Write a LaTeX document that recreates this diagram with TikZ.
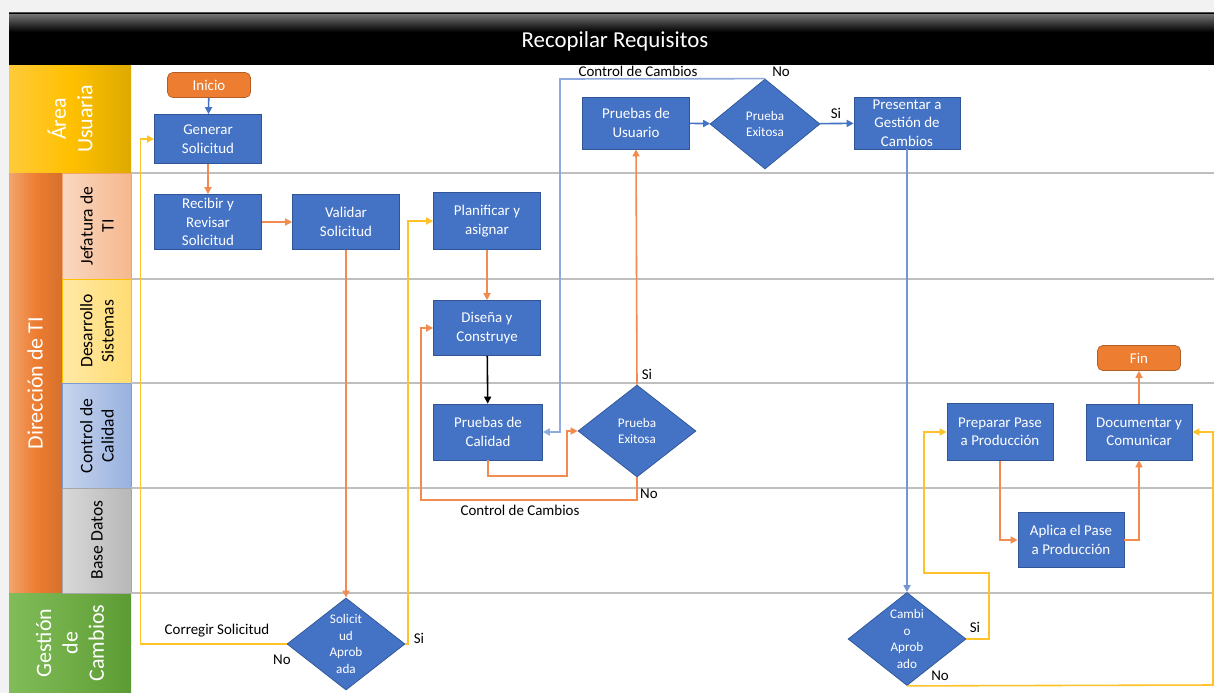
\documentclass[tikz,border=0pt]{standalone}
\usepackage{fontspec}
\setmainfont{Carlito}
\usetikzlibrary{shapes.geometric,arrows.meta}
\definecolor{boxblue}{HTML}{4472C4}
\definecolor{boxedge}{HTML}{2F5597}
\definecolor{startor}{HTML}{ED7D31}
\definecolor{flowor}{HTML}{F28C4E}
\definecolor{flowye}{HTML}{FFC22A}
\definecolor{flowbl}{HTML}{4472C4}
\definecolor{flowlb}{HTML}{8FAADC}
\definecolor{laneline}{HTML}{BFBFBF}
\definecolor{goldl}{HTML}{FFCA3A}
\definecolor{goldm}{HTML}{FFC000}
\definecolor{goldr}{HTML}{DDAA00}
\definecolor{greenl}{HTML}{80BD5A}
\definecolor{greenm}{HTML}{70AD47}
\definecolor{greenr}{HTML}{5C9B34}

\begin{document}
\begin{tikzpicture}[x=0.02cm,y=-0.02cm,
  >={Triangle[length=4pt,width=4pt]},
  proc/.style={rectangle,draw=boxedge,fill=boxblue,text=white,align=center,
    minimum width=2.14cm,minimum height=1.1cm,inner sep=1pt,
    font=\fontsize{8.5}{10.5}\selectfont},
  dec/.style={diamond,draw=boxedge,fill=boxblue,text=white,align=center,
    minimum width=2.36cm,minimum height=1.84cm,inner sep=0pt,
    font=\fontsize{7.5}{9.5}\selectfont},
  term/.style={rectangle,rounded corners=3pt,draw=startor!75!black,fill=startor,
    text=white,minimum width=1.66cm,minimum height=0.5cm,
    font=\fontsize{8.5}{10}\selectfont},
  lbl/.style={inner sep=0pt,font=\fontsize{8.5}{10}\selectfont},
  lanetxt/.style={rotate=90,align=center,text=white,font=\fontsize{12.5}{15}\selectfont},
  subtxt/.style={rotate=90,align=center,font=\fontsize{10}{12}\selectfont},
  orflow/.style={->,draw=flowor,line width=0.9pt},
  yeflow/.style={->,draw=flowye,line width=0.9pt},
  blflow/.style={->,draw=flowbl,line width=0.9pt}]

\useasboundingbox (0,0) rectangle (1214,693);
\fill[black!5] (0,0) rectangle (1214,693);
\fill[white] (9,65) rectangle (1214,693);

\fill[black] (9,12) rectangle (1214,65);
\shade[top color=black!55,bottom color=black] (9,14) rectangle (1214,32);
\draw[black!70,line width=0.6pt] (9,12.5) -- (1214,12.5);
\path (615,41) node[text=white,font=\fontsize{13}{15}\selectfont] (title) {Recopilar Requisitos};

\shade[left color=goldl,right color=goldr,middle color=goldm] (9,65) rectangle (131,173);
\path (70,119) node[lanetxt] (usu) {Área\\Usuaria};
\shade[left color=startor!70!white,right color=startor!90!black,middle color=startor] (9,173) rectangle (62,593);
\path (35,383) node[lanetxt] (dir) {Dirección de TI};
\shade[left color=greenl,right color=greenr,middle color=greenm] (9,593) rectangle (131,693);
\path (70,643) node[lanetxt] (gest) {Gestión\\de\\Cambios};

\shade[draw=startor!70,left color=startor!30,right color=startor!55] (62,173) rectangle (131,279);
\path (97,226) node[subtxt] (jef) {Jefatura de\\TI};
\shade[draw=goldm,left color=goldm!35,right color=goldm!55] (62,279) rectangle (131,383);
\path (97,331) node[subtxt] (des) {Desarrollo\\Sistemas};
\shade[draw=boxblue!70,left color=boxblue!30,right color=boxblue!55] (62,383) rectangle (131,488);
\path (97,436) node[subtxt] (cal) {Control de\\Calidad};
\shade[draw=black!35,left color=black!15,right color=black!28] (62,488) rectangle (131,593);
\path (97,540) node[subtxt] (bd) {Base Datos};

\foreach \ly in {173,279,383,488,593}
  \draw[laneline,line width=0.9pt] (131,\ly) -- (1214,\ly);

\path (209,85) node[term] (ini) {Inicio};
\path (208,139) node[proc,minimum height=0.98cm] (gen) {Generar\\Solicitud};
\draw[blflow] (ini) -- (gen);
\path (208,222) node[proc] (rec) {Recibir y\\Revisar\\Solicitud};
\draw[orflow] (gen) -- (rec);
\path (346,222) node[proc] (val) {Validar\\Solicitud};
\draw[orflow] (rec) -- (val);

\path (346,644) node[dec] (sol) {Solicit\\ud\\Aprob\\ada};
\draw[orflow] (val) -- (sol);
\path (487,221) node[proc,minimum height=1.14cm] (plan) {Planificar y\\asignar};
\draw[yeflow] (sol.west) -- ++(-146,0) |- (gen.west);
\path (217,631) node[lbl] (corr) {Corregir Solicitud};
\path (282,660) node[lbl] (solno) {No};
\draw[yeflow] (sol.east) -- ++(2.5,0) |- (plan.west);
\path (419,638) node[lbl] (solsi) {Si};

\path (487,328) node[proc] (dis) {Diseña y\\Construye};
\draw[orflow] (plan) -- (dis);
\path (488,432) node[proc,minimum width=2.18cm,minimum height=1.12cm] (pcal) {Pruebas de\\Calidad};
\draw[->,line width=0.9pt] (dis) -- (pcal);
\path (637,431) node[dec] (qa) {Prueba\\Exitosa};
\draw[orflow] (pcal.south) |- (567,476) |- (qa.west);
\path (636,123) node[proc,minimum height=1.04cm] (pusu) {Pruebas de\\Usuario};
\draw[orflow] (qa.north) -- (pusu.south);
\path (647,374) node[lbl] (qasi) {Si};
\draw[orflow] (qa.south) |- (421,500) |- (dis.west);
\path (649,494) node[lbl] (qano) {No};
\path (520,510) node[lbl] (cc1) {Control de Cambios};

\path (765,124) node[dec,minimum width=2.2cm,minimum height=1.8cm] (ua) {Prueba\\Exitosa};
\draw[blflow] (pusu) -- (ua);
\draw[->,draw=flowlb,line width=0.9pt] (ua.north) -- (560,79) |- (pcal.east);
\path (638,71) node[lbl] (cc2) {Control de Cambios};
\path (781,72) node[lbl] (uano) {No};
\path (907,123) node[proc,minimum width=2.12cm,minimum height=1.04cm] (pres) {Presentar a\\Gestión de\\Cambios};
\draw[blflow] (ua) -- (pres);
\path (836,113) node[lbl] (uasi) {Si};

\path (907,639) node[dec,minimum height=1.82cm] (cam) {Cambi\\o\\Aprob\\ado};
\draw[->,draw=flowbl!75,line width=0.9pt] (pres) -- (cam);
\path (1000,432) node[proc,minimum width=2.12cm,minimum height=1.14cm] (prep) {Preparar Pase\\a Producción};
\draw[yeflow] (cam.east) -- (989,639) |- (924,573) |- (prep.west);
\path (975,627) node[lbl] (camsi) {Si};
\path (1139,432) node[proc,minimum width=2.12cm,minimum height=1.12cm] (doc) {Documentar y\\Comunicar};
\draw[yeflow] (cam.south) -- (1213,685) |- (doc.east);
\path (940,676) node[lbl] (camno) {No};

\path (1071,540) node[proc,minimum width=2.12cm] (apl) {Aplica el Pase\\a Producción};
\draw[orflow] (prep.south) |- (apl.west);
\draw[orflow] (apl.east) -| (doc.south);
\path (1139,358) node[term] (fin) {Fin};
\draw[orflow] (doc) -- (fin);
\end{tikzpicture}
\end{document}
